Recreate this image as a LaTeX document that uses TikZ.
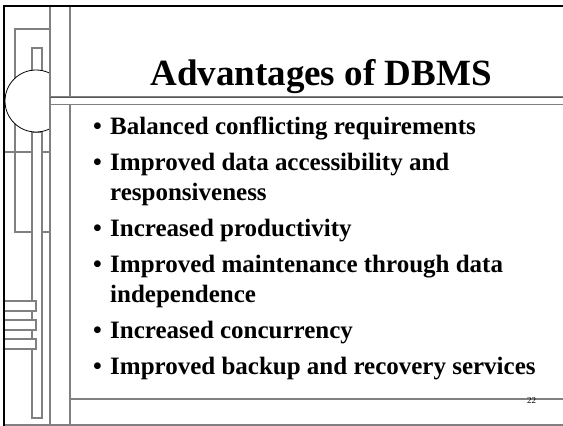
\documentclass[tikz,border=0pt]{standalone}
\usepackage{fontspec}
\setmainfont{Liberation Serif}
\definecolor{framegray}{RGB}{128,128,128}
\definecolor{darkgray2}{RGB}{90,90,90}
\begin{document}
\begin{tikzpicture}[x=1pt,y=-1pt,
  gline/.style={draw=framegray,line width=1.2pt},
  blackline/.style={draw=black,line width=2.4pt},
  itemtext/.style={anchor=base west,inner sep=0pt,font=\fontsize{25}{30}\selectfont\bfseries},
  bulletmark/.style={anchor=base,inner sep=0pt,font=\fontsize{25}{30}\selectfont\bfseries},
  titletext/.style={anchor=base,inner sep=0pt,font=\fontsize{37}{44}\selectfont\bfseries}
]
\useasboundingbox (0,0) rectangle (563,426);
\fill[white] (0,0) rectangle (563,426);
% left decoration
\draw[gline] (15,29) rectangle (50,232);
\draw[gline] (4,152) -- (50,152);
\draw[gline,fill=white] (32,48) rectangle (42,72);
\draw[gline,fill=white] (32,132) rectangle (42,418);
\begin{scope}
  \clip (0,60) rectangle (50,145);
  \draw[draw=black,line width=0.8pt,fill=white] (36,101) circle[radius=31];
\end{scope}
\draw[gline,fill=white] (4,301) rectangle (36,311);
\draw[gline,fill=white] (4,320) rectangle (36,330);
\draw[gline,fill=white] (4,339) rectangle (36,349);
% vertical lines
\draw[gline] (50,6) -- (50,426);
\draw[gline] (70,6) -- (70,426);
% band
\draw[gline,fill=white] (563,97) -- (50,97) -- (50,104.5) -- (563,104.5);
\draw[draw=darkgray2,line width=1pt] (50,97) -- (563,97);
% bottom lines
\draw[gline] (70,399) -- (563,399);
\draw[gline] (4,425) -- (563,425);
% frame
\draw[blackline] (4,6) -- (563,6);
\draw[blackline] (4,4.8) -- (4,426);
% title
\node[titletext] (title) at (321,85) {Advantages of DBMS};
% bullets
\node[bulletmark] (b1) at (97.5,134) {•};
\node[itemtext] (t1) at (110,134) {Balanced conflicting requirements};
\node[bulletmark] (b2) at (97.5,170) {•};
\node[itemtext] (t2) at (110,170) {Improved data accessibility and};
\node[itemtext] (t2b) at (110,200) {responsiveness};
\node[bulletmark] (b3) at (97.5,236) {•};
\node[itemtext] (t3) at (110,236) {Increased productivity};
\node[bulletmark] (b4) at (97.5,272) {•};
\node[itemtext] (t4) at (110,272) {Improved maintenance through data};
\node[itemtext] (t4b) at (110,302) {independence};
\node[bulletmark] (b5) at (97.5,338) {•};
\node[itemtext] (t5) at (110,338) {Increased concurrency};
\node[bulletmark] (b6) at (97.5,374) {•};
\node[itemtext] (t6) at (110,374) {Improved backup and recovery services};
% page number
\node[anchor=base,inner sep=0pt,font=\fontsize{9}{10}\selectfont] (pg) at (531.5,403) {22};
\end{tikzpicture}
\end{document}
